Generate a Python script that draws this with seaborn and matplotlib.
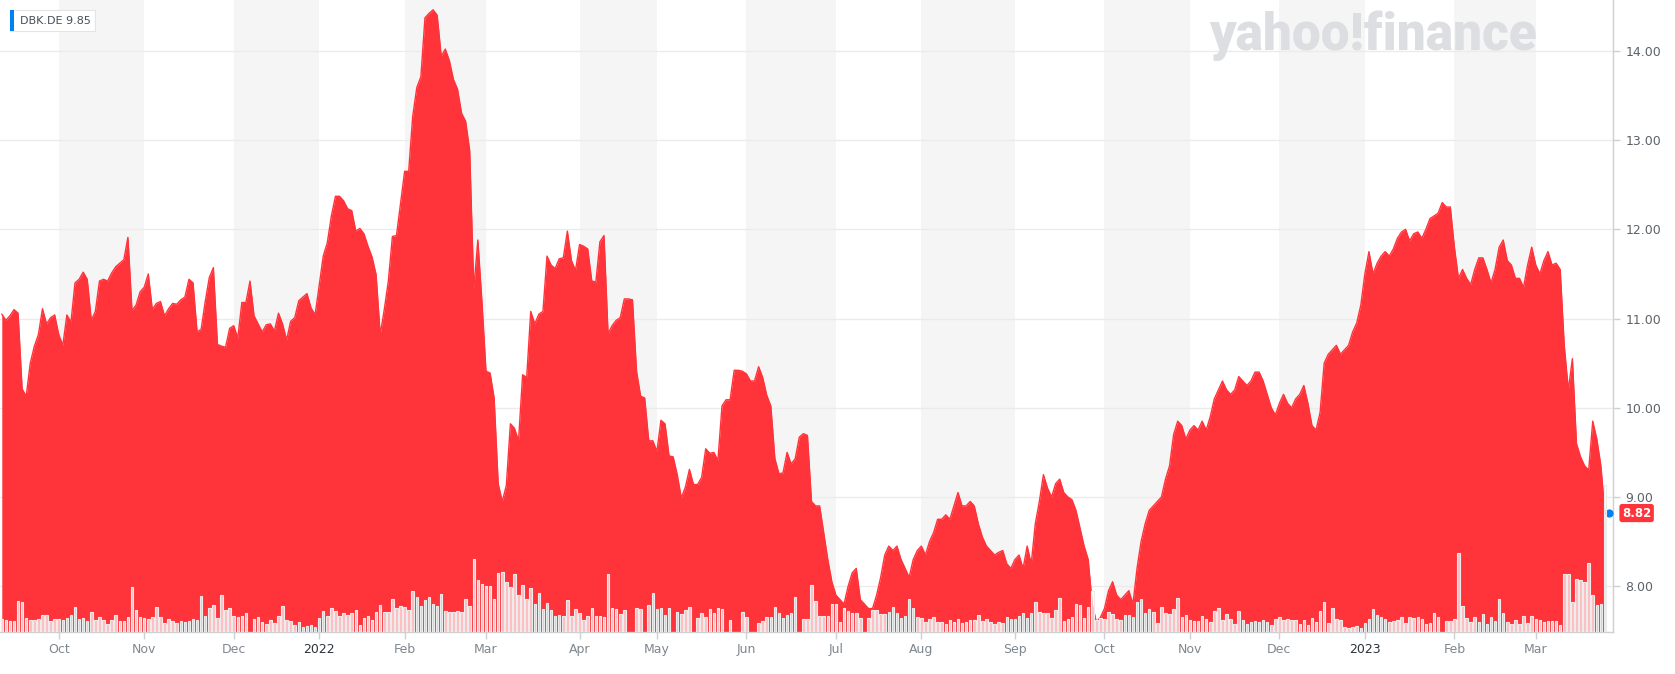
import numpy as np
import pandas as pd
import matplotlib
matplotlib.use('Agg')
import matplotlib.pyplot as plt
import matplotlib.transforms as mtransforms
from matplotlib.patches import Rectangle
import seaborn as sns

# DBK.DE daily close (EUR) and volume (M shares), 13 Sep 2021 - 24 Mar 2023 (Xetra days)
ticker = 'DBK.DE'
legend_price = '9.85'
last_price_label = '8.82'
xetra_holidays = ['2021-12-24', '2021-12-31', '2022-04-15', '2022-04-18', '2022-12-26']

close_part1 = [11.05, 10.98, 11.03, 11.10, 11.06, 10.21, 10.13, 10.50, 10.69, 10.82, 11.11,
               10.94, 11.01, 11.04, 10.82, 10.70, 11.04, 10.96, 11.40, 11.44, 11.52, 11.44,
               10.98, 11.08, 11.42, 11.44, 11.42, 11.51, 11.58, 11.62, 11.66, 11.91, 11.09,
               11.15, 11.30, 11.35, 11.50, 11.10, 11.17, 11.19, 11.03, 11.11, 11.17, 11.16,
               11.21, 11.24, 11.44, 11.40, 10.85, 10.88, 11.19, 11.46, 11.57, 10.71, 10.69,
               10.68, 10.89, 10.92, 10.78, 11.18, 11.18, 11.42, 11.03, 10.94, 10.85, 10.93]
close_part2 = [10.94, 10.86, 11.06, 10.94, 10.76, 10.97, 11.01, 11.20, 11.24, 11.28, 11.12,
               11.04, 11.37, 11.70, 11.85, 12.15, 12.37, 12.37, 12.32, 12.23, 12.21, 11.98,
               12.01, 11.95, 11.81, 11.69, 11.49, 10.82, 11.10, 11.42, 11.92, 11.93, 12.29,
               12.65, 12.65, 13.27, 13.59, 13.71, 14.37, 14.42, 14.46, 14.40, 13.94, 14.02,
               13.89, 13.68, 13.57, 13.30, 13.21, 12.88, 11.33, 11.88, 11.19, 10.41, 10.39,
               10.11, 9.15, 8.95, 9.13, 9.82, 9.77, 9.63, 10.37, 10.34, 11.08, 10.94, 11.05]
close_part3 = [11.08, 11.70, 11.60, 11.56, 11.67, 11.68, 11.98, 11.65, 11.54, 11.83, 11.81,
               11.78, 11.42, 11.41, 11.86, 11.93, 10.83, 10.92, 10.98, 11.01, 11.22, 11.22,
               11.21, 10.41, 10.13, 10.11, 9.63, 9.63, 9.51, 9.86, 9.82, 9.46, 9.45,
               9.25, 8.99, 9.11, 9.31, 9.14, 9.14, 9.22, 9.54, 9.49, 9.50, 9.41, 10.02,
               10.09, 10.09, 10.42, 10.42, 10.41, 10.38, 10.30, 10.30, 10.46, 10.34, 10.14,
               10.02, 9.43, 9.26, 9.27, 9.50, 9.37, 9.43, 9.67, 9.71, 9.69]
close_part4 = [8.95, 8.90, 8.90, 8.60, 8.30, 8.05, 7.90, 7.85, 7.80, 8.00, 8.15, 8.20, 7.85,
               7.80, 7.75, 7.75, 7.90, 8.10, 8.35, 8.45, 8.40, 8.45, 8.30, 8.20, 8.10, 8.30,
               8.40, 8.45, 8.35, 8.50, 8.60, 8.75, 8.75, 8.80, 8.75, 8.90, 9.05, 8.90, 8.90,
               8.95, 8.90, 8.70, 8.55, 8.45, 8.40, 8.35, 8.38, 8.40, 8.25, 8.20, 8.30, 8.35,
               8.20, 8.45, 8.25, 8.70, 8.95, 9.25, 9.10, 9.00, 9.15, 9.20, 9.05, 9.00, 8.97,
               8.85, 8.65, 8.45, 8.30, 7.80, 7.60, 7.65, 7.75, 7.95, 8.05, 7.90, 7.85, 7.90,
               7.95, 7.80, 8.20, 8.50, 8.70, 8.85, 8.90, 8.95, 9.00, 9.20, 9.35, 9.70, 9.85,
               9.80, 9.65, 9.75, 9.80, 9.75, 9.85, 9.75]
close_part5 = [9.90, 10.10, 10.20, 10.30, 10.20, 10.15, 10.20, 10.35, 10.30, 10.25, 10.30,
               10.40, 10.40, 10.30, 10.15, 10.00, 9.92, 10.05, 10.15, 10.05, 10.00, 10.10,
               10.15, 10.25, 10.05, 9.80, 9.75, 9.95, 10.50, 10.60, 10.65, 10.70, 10.60,
               10.65, 10.70, 10.85, 10.95, 11.15, 11.50, 11.75, 11.50, 11.62, 11.70, 11.75,
               11.70, 11.78, 11.90, 11.97, 12.00, 11.87, 11.95, 11.97, 11.90, 12.00, 12.12,
               12.15, 12.18, 12.30, 12.25, 12.25, 11.80, 11.45, 11.55, 11.45, 11.38, 11.55,
               11.68, 11.68, 11.55, 11.40, 11.55, 11.80, 11.88, 11.65, 11.60, 11.45, 11.45,
               11.35, 11.60, 11.80, 11.60, 11.50, 11.65, 11.75, 11.60, 11.62, 11.55, 10.70,
               10.20, 10.55, 9.60, 9.45, 9.35, 9.30, 9.85, 9.65, 9.35, 8.82]

volume_part1 = [13, 12, 11, 11, 31, 30, 14, 12, 12, 13, 17, 17, 11, 13, 13, 12, 14, 17, 25, 13,
                14, 11, 20, 12, 15, 12, 8, 12, 17, 11, 11, 15, 45, 22, 15, 14, 13, 15, 25, 15,
                9, 13, 11, 9, 11, 10, 11, 13, 12, 36, 16, 24, 27, 14, 37, 22, 24, 16, 15, 16,
                19, 0, 13, 15, 10, 8, 12, 9, 16, 26, 12, 11, 7, 10, 5, 6, 7, 5, 14, 21,
                16, 24, 21, 16, 19, 17, 19, 22, 7, 14, 16, 12, 20, 27, 20, 20, 33, 24, 26, 25,
                22, 41, 35, 26, 32, 35, 28, 26, 38, 21, 20, 20, 21, 20, 33, 26, 73, 52, 48, 46,
                46, 33, 59, 60, 50, 45, 58, 37, 47, 33, 44, 28, 39, 23, 29, 22, 16, 17, 16, 32,
                16, 23, 19, 12, 16, 24, 16, 16]
volume_part2 = [15, 58, 24, 23, 18, 22, 0, 0, 24, 23, 0, 27, 39, 23, 24, 17, 24, 0, 20, 18,
                22, 25, 0, 14, 19, 15, 23, 19, 24, 23, 0, 12, 0, 0, 20, 15, 0, 0, 9, 11,
                15, 15, 25, 19, 14, 17, 19, 35, 0, 13, 13, 47, 31, 16, 16, 16, 28, 28, 10, 24,
                21, 19, 19, 14, 0, 14, 22, 22, 18, 18, 20, 25, 19, 14, 16, 33, 24, 15, 14, 10,
                13, 15, 10, 10, 8, 12, 10, 13, 9, 10, 12, 12, 17, 11, 13, 10, 8, 10, 9, 15,
                13, 13, 16, 19, 14, 19, 30, 20, 19, 19, 14, 22, 34, 11, 13, 15, 28, 27, 14, 25,
                41, 12, 14, 13, 20, 18, 13, 12, 17, 17, 15, 30, 33, 19, 23, 20, 9, 25, 19, 18,
                23, 34, 15, 17, 12, 11, 11]
volume_part3 = [16, 13, 10, 21, 24, 12, 18, 13, 8, 21, 12, 8, 10, 11, 10, 12, 10, 7, 13, 15,
                12, 13, 12, 12, 8, 12, 7, 14, 10, 21, 30, 9, 24, 13, 12, 5, 4, 5, 6, 4,
                9, 13, 23, 17, 15, 13, 10, 11, 12, 15, 9, 15, 14, 15, 13, 8, 9, 19, 15, 0,
                11, 11, 13, 79, 26, 14, 10, 15, 10, 18, 8, 15, 11, 33, 19, 10, 8, 12, 8, 16,
                9, 16, 13, 12, 10, 11, 11, 11, 7, 58, 58, 30, 53, 52, 50, 69, 37, 27, 28, 147]

price_ticks = [8, 9, 10, 11, 12, 13, 14]

dates = pd.bdate_range('2021-09-13', '2023-03-24', freq='C', holidays=xetra_holidays)
close = np.array(close_part1 + close_part2 + close_part3 + close_part4 + close_part5)
volume = np.array(volume_part1 + volume_part2 + volume_part3)
x = np.arange(len(dates))
df = pd.DataFrame({'x': x, 'close': close, 'volume': volume})

red = '#ff333a'
blue = '#0081f2'
axis_grey = '#cdd1d4'

sns.set_theme(style='white')
plt.rcParams['font.family'] = ['DejaVu Sans']

fig = plt.figure(figsize=(16.75, 6.74), dpi=100)
ax = fig.add_axes([0, 42 / 674, 1613 / 1675, 632 / 674])
y_lo, y_hi = 7.487, 14.57
ax.set_ylim(y_lo, y_hi)
ax.set_xlim(-0.44, len(x) + 0.98)

# month bands and ticks
month_start = [i for i in range(1, len(dates)) if dates[i].month != dates[i - 1].month]
for k, i in enumerate(month_start[:-1]):
    if dates[i].month % 2 == 0:
        ax.axvspan(i, month_start[k + 1], color='#f5f5f5', lw=0, zorder=0)

ax.set_yticks(price_ticks)
ax.yaxis.set_major_formatter(matplotlib.ticker.FormatStrFormatter('%.2f'))
ax.grid(axis='y', color='#ebebeb', lw=1, zorder=0.5)
ax.grid(axis='x', visible=False)
ax.set_axisbelow(True)

# price area
ax.fill_between(df['x'], df['close'], y_lo, color=red, lw=0, zorder=2)
sns.lineplot(data=df, x='x', y='close', color=red, lw=1, ax=ax, zorder=2)
ax.set_xlabel('')
ax.set_ylabel('')

# volume bars
ax2 = ax.twinx()
vol = df[df['volume'] > 0]
ax2.bar(vol['x'], vol['volume'], width=0.62, color=(1, 1, 1, 0.68),
        edgecolor='#ececec', lw=0.8, zorder=3)
ax2.set_ylim(0, 632)
ax2.set_yticks([])
for s in ax2.spines.values():
    s.set_visible(False)

for s in ['top', 'left']:
    ax.spines[s].set_visible(False)
for s in ['right', 'bottom']:
    ax.spines[s].set_color(axis_grey)
    ax.spines[s].set_linewidth(1)

ax.yaxis.tick_right()
ax.tick_params(axis='y', right=True, left=False, labelright=True, labelleft=False,
               length=5, width=1, color=axis_grey, labelsize=9, labelcolor='#5b636a', pad=4)
ax.set_xticks(month_start)
labels = [str(dates[i].year) if dates[i].month == 1 else dates[i].strftime('%b')
          for i in month_start]
ax.set_xticklabels(labels)
ax.tick_params(axis='x', bottom=True, length=5, width=1, color=axis_grey, labelsize=9, pad=3)
for lab, i in zip(ax.get_xticklabels(), month_start):
    lab.set_color('#2c343c' if dates[i].month == 1 else '#7f878f')

# last price marker and label
ax.scatter([x[-1] + 1], [close[-1]], s=24, color=blue, zorder=5, clip_on=False)
trans = mtransforms.blended_transform_factory(ax.transAxes, ax.transData)
ax.text(1 + 9 / 1613, close[-1], last_price_label, transform=trans, color='white',
        fontsize=8.5, fontweight='bold', va='center', ha='left',
        bbox=dict(boxstyle='round,pad=0.22', fc=red, ec='none'))

# legend chip
fig.patches.append(Rectangle((11 / 1675, 1 - 32 / 674), 85 / 1675, 21 / 674,
                             transform=fig.transFigure, fc='#ececec', ec='none', zorder=9))
fig.patches.append(Rectangle((10 / 1675, 1 - 31 / 674), 85 / 1675, 21 / 674,
                             transform=fig.transFigure, fc='white', ec='#e4e4e4',
                             lw=0.8, zorder=10))
fig.patches.append(Rectangle((10 / 1675, 1 - 31 / 674), 4 / 1675, 21 / 674,
                             transform=fig.transFigure, fc=blue, ec='none', zorder=11))
fig.text(20 / 1675, 1 - 20.5 / 674, f'{ticker} {legend_price}', fontsize=8,
         color='#464e56', va='center', ha='left', zorder=12)

# watermark
fig.text(1373 / 1675, 1 - 50 / 674, 'yahoo!finance', fontsize=37, fontweight='black',
         family=['Roboto', 'DejaVu Sans'], color='#dcdee1', ha='center', va='baseline',
         zorder=1)

fig.savefig('out.png', dpi=100)
